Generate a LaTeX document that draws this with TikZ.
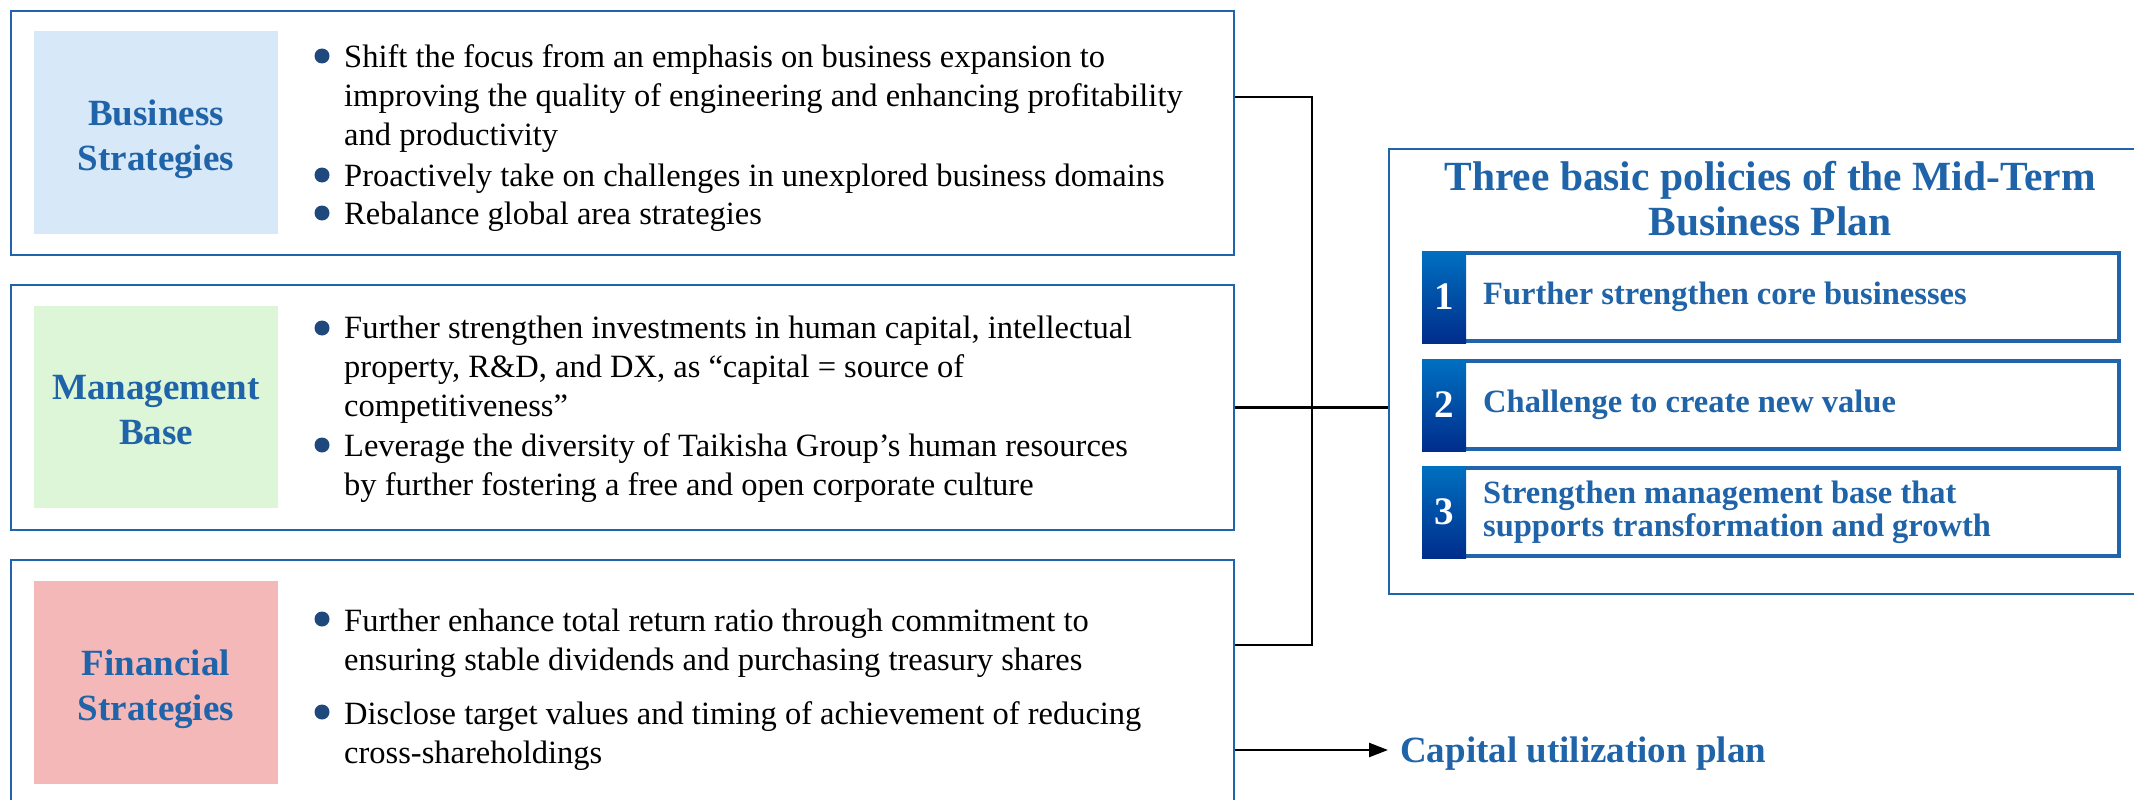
\documentclass[tikz,border=0pt]{standalone}
\usepackage{fontspec}
\setmainfont{Liberation Serif}
\usetikzlibrary{arrows.meta,calc}
\definecolor{boxblue}{HTML}{2064AC}
\definecolor{tblue}{HTML}{1F63A8}
\definecolor{bulc}{HTML}{1F497D}
\definecolor{bsbg}{HTML}{D7E8F8}
\definecolor{mbbg}{HTML}{DDF6D8}
\definecolor{fsbg}{HTML}{F5B8B8}
\definecolor{numtop}{HTML}{0070C0}
\definecolor{numbot}{HTML}{002D8C}
\begin{document}
\begin{tikzpicture}[x=1pt,y=-1pt,
  mainbox/.style={draw=boxblue, line width=2pt, fill=white, minimum width=1223pt, inner sep=0pt},
  labelbox/.style={fill=#1, minimum width=244pt, inner sep=0pt},
  labeltext/.style={inner sep=0pt, align=center, text=tblue, font=\fontsize{37}{45}\selectfont\bfseries},
  bodytext/.style={anchor=base west, align=left, inner sep=0pt, font=\fontsize{32.5}{39}\selectfont},
  bul/.style={circle, fill=bulc, inner sep=0pt, minimum size=15pt},
  polbox/.style={draw=boxblue, line width=4pt, fill=white, minimum width=695pt, minimum height=88pt, inner sep=0pt},
  numbox/.style={top color=numtop, bottom color=numbot, minimum width=44pt, minimum height=92pt, inner sep=0pt,
    text=white, font=\fontsize{39}{40}\selectfont\bfseries},
  poltext/.style={anchor=west, align=left, inner sep=0pt, text=tblue, font=\fontsize{32.5}{33}\selectfont\bfseries},
  conn/.style={draw=black, line width=2.5pt}
]
\useasboundingbox (0,0) rectangle (2134,800);
\clip (0,0) rectangle (2134,800);

% left boxes
\node[mainbox, minimum height=244pt] (b1) at (622.5,133) {};
\node[mainbox, minimum height=245pt] (b2) at (622.5,407.5) {};
\node[mainbox, minimum height=250pt] (b3) at (622.5,685) {};

\node[labelbox=bsbg, minimum height=203pt] (l1) at (156,132.5) {};
\node[labelbox=mbbg, minimum height=202pt] (l2) at (156,407) {};
\node[labelbox=fsbg, minimum height=203pt] (l3) at (156,682.5) {};
\node[labeltext] (lt1) at ([yshift=-7pt]l1.center) {Business\\Strategies};
\node[labeltext] (lt2) at ([yshift=-3pt]l2.center) {Management\\Base};
\node[labeltext] (lt3) at ([yshift=-7pt]l3.center) {Financial\\Strategies};

% box 1 items (base anchor = baseline of last line)
\node[bul] (u11) at (322,56) {};
\node[bodytext] (t11) at (344,145) {Shift the focus from an emphasis on business expansion to\\improving the quality of engineering and enhancing profitability\\and productivity};
\node[bul] (u12) at (322,175) {};
\node[bodytext] (t12) at (344,186) {Proactively take on challenges in unexplored business domains};
\node[bul] (u13) at (322,213) {};
\node[bodytext] (t13) at (344,224) {Rebalance global area strategies};

% box 2 items
\node[bul] (u21) at (322,328) {};
\node[bodytext] (t21) at (344,416) {Further strengthen investments in human capital, intellectual\\property, R\&D, and DX, as “capital = source of\\competitiveness”};
\node[bul] (u22) at (322,445) {};
\node[bodytext] (t22) at (344,495) {Leverage the diversity of Taikisha Group’s human resources\\by further fostering a free and open corporate culture};

% box 3 items
\node[bul] (u31) at (322,619) {};
\node[bodytext] (t31) at (344,670) {Further enhance total return ratio through commitment to\\ensuring stable dividends and purchasing treasury shares};
\node[bul] (u32) at (322,712) {};
\node[bodytext] (t32) at (344,763) {Disclose target values and timing of achievement of reducing\\cross-shareholdings};

% right box
\node[draw=boxblue, line width=2pt, fill=white, minimum width=761pt, minimum height=445pt, inner sep=0pt] (rb) at (1769.5,371.5) {};
\node[align=center, inner sep=0pt, text=tblue, font=\fontsize{41.5}{45}\selectfont\bfseries] (title) at (1770,199)
  {Three basic policies of the Mid-Term\\Business Plan};

\node[polbox] (p1) at (1771.5,297) {};
\node[polbox] (p2) at (1771.5,405) {};
\node[polbox] (p3) at (1771.5,512) {};
\node[numbox] (n1) at (1444,297) {1};
\node[numbox] (n2) at (1444,405) {2};
\node[numbox] (n3) at (1444,512) {3};
\node[poltext] (q1) at (1483,297) {Further strengthen core businesses};
\node[poltext] (q2) at (1483,405) {Challenge to create new value};
\node[poltext] (q3) at (1483,512) {Strengthen management base that\\supports transformation and growth};

% capital utilization plan
\node[anchor=base west, inner sep=0pt, inner xsep=12pt, text=tblue, font=\fontsize{37}{40}\selectfont\bfseries] (cap) at (1388,762) {Capital utilization plan};

% connectors
\coordinate (j1) at (1312,97);
\coordinate (j3) at (1312,645);
\coordinate (ay) at (0,750);
\draw[conn] (b1.east |- j1) -- (j1) -- (j3) -- (b3.east |- j3);
\draw[conn] (b2.east) -- (b2.east -| rb.west);
\draw[conn, -{Triangle[length=19pt,width=14pt]}] (b3.east |- ay) -- (cap.west |- ay);
\end{tikzpicture}
\end{document}
